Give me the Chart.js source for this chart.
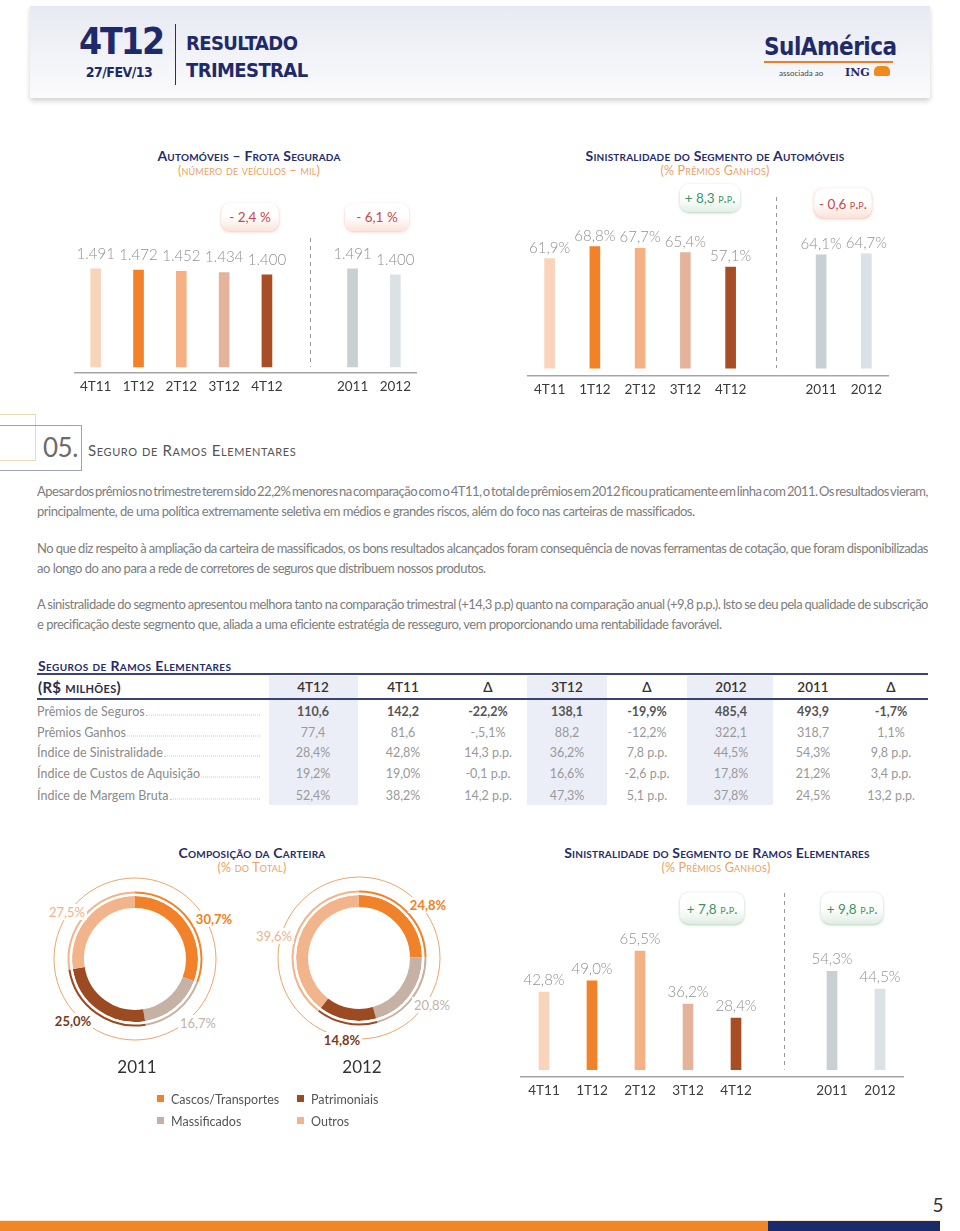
<!DOCTYPE html>
<html lang="pt-BR">
<head>
<meta charset="utf-8">
<title>4T12 - Resultado Trimestral</title>
<script src="https://cdn.jsdelivr.net/npm/chart.js@4.4.1/dist/chart.umd.min.js"></script>
<style>
html,body{margin:0;padding:0;background:#fff}
body{width:960px;height:1231px;position:relative;overflow:hidden;font-family:Lato,'Open Sans',sans-serif}
.c{position:absolute;transform:translate(-50%,-50%);white-space:nowrap}
.l{position:absolute;transform:translateY(-50%);white-space:nowrap}
canvas{position:absolute}
.titulo{color:#262c69;font-weight:700;font-variant:small-caps;font-size:14px;letter-spacing:.2px}
.sub{color:#eba25f;font-variant:small-caps;font-size:12.5px;letter-spacing:.2px}
.badge{position:absolute;transform:translate(-50%,-50%);border-radius:9px;font-size:13.5px;display:flex;align-items:center;justify-content:center;white-space:nowrap}
.neg{color:#c9474d;background:linear-gradient(#fff 0%,#fff 50%,#fae3da 100%);box-shadow:0 1px 3px rgba(230,150,130,.55)}
.pos{color:#3d9460;background:linear-gradient(#fff 0%,#fff 50%,#e2eee4 100%);box-shadow:0 1px 3px rgba(120,170,130,.55)}
.sc{font-variant:small-caps}
.cab{position:absolute;left:30px;top:6px;width:900px;height:92px;background:linear-gradient(#e7eaf2,#fbfbfd);box-shadow:0 3px 5px rgba(0,0,0,.18)}
.cond{font-family:'DejaVu Sans Condensed','DejaVu Sans',sans-serif;font-stretch:condensed}
.linha{position:absolute;left:37px;width:891px;font-size:13px;color:#7d7d7d;letter-spacing:-.5px;white-space:nowrap;line-height:18px}
.just{text-align:justify;text-align-last:justify;white-space:normal;height:18px;overflow:hidden;word-spacing:-2.5px}
.rot{font-size:12.5px;color:#8a8a8a}
.val{font-size:12.5px;color:#999}
.ano{font-size:17px;color:#333}
.leg{font-size:12.5px;color:#555}
.qd{position:absolute;width:7px;height:7px}
.pct{position:absolute;transform:translate(-50%,-50%);background:#fff;padding:0 2px;font-size:13px;white-space:nowrap}
</style>
</head>
<body>

<!-- cabecalho -->
<div class="cab"></div>
<div class="c cond" style="left:121px;top:41px;font-size:37px;font-weight:bold;color:#1f2a6b;letter-spacing:-2px">4T12</div>
<div class="c cond" style="left:119px;top:72px;font-size:14px;font-weight:bold;color:#1f2a6b;letter-spacing:-.5px">27/FEV/13</div>
<div style="position:absolute;left:175px;top:24px;width:1px;height:61px;background:#333"></div>
<div class="l cond" style="left:186px;top:43px;font-size:20px;font-weight:bold;color:#1f2a6b;letter-spacing:-.6px">RESULTADO</div>
<div class="l cond" style="left:186px;top:70px;font-size:20px;font-weight:bold;color:#1f2a6b;letter-spacing:-.6px">TRIMESTRAL</div>
<div class="l cond" style="left:764px;top:47px;font-size:24px;font-weight:bold;color:#1f2a6b;letter-spacing:-.5px">SulAmérica</div>
<div style="position:absolute;left:764px;top:61px;width:129px;height:2px;background:#ef7d22"></div>
<div class="l" style="left:779px;top:73px;font-size:8px;color:#444">associada ao</div>
<div class="l" style="left:845px;top:72px;font-family:'DejaVu Serif',serif;font-size:11px;font-weight:bold;color:#1f2a6b">ING</div>
<div style="position:absolute;left:874px;top:66px;width:16px;height:10px;border-radius:5px 5px 2px 2px;background:#f08a1c"></div>

<!-- grafico frota -->
<div class="c titulo" style="left:249px;top:155px">Automóveis – Frota Segurada</div>
<div class="c sub" style="left:249px;top:170px">(número de veículos – mil)</div>
<div class="badge neg" style="left:250px;top:217px;width:57px;height:28px">- 2,4 %</div>
<div class="badge neg" style="left:377px;top:217px;width:64px;height:28px">- 6,1 %</div>
<canvas id="frota" width="343" height="201" style="left:74px;top:200px"></canvas>

<!-- grafico sinistralidade automoveis -->
<div class="c titulo" style="left:715px;top:155px">Sinistralidade do Segmento de Automóveis</div>
<div class="c sub" style="left:715px;top:170px">(% Prêmios Ganhos)</div>
<div class="badge pos" style="left:710px;top:198px;width:60px;height:28px">+ 8,3&nbsp;<span class="sc">p.p.</span></div>
<div class="badge neg" style="left:843px;top:203px;width:57px;height:29px">- 0,6&nbsp;<span class="sc">p.p.</span></div>
<canvas id="sinAuto" width="362" height="219" style="left:527px;top:185px"></canvas>

<!-- secao 05 -->
<div style="position:absolute;left:-1px;top:414px;width:35px;height:45px;border:1px solid #eadcb2"></div>
<div style="position:absolute;left:-1px;top:425px;width:81px;height:44px;border:1px solid #9ca1b3"></div>
<div class="l" style="left:43px;top:447px;font-size:26px;color:#6b6b6b;letter-spacing:-.5px">05.</div>
<div class="l" style="left:88px;top:450px;font-size:15px;color:#555;font-variant:small-caps;letter-spacing:.6px">Seguro de Ramos Elementares</div>

<div class="linha just" style="top:482px">Apesar dos prêmios no trimestre terem sido 22,2% menores na comparação com o 4T11, o total de prêmios em 2012 ficou praticamente em linha com 2011. Os resultados vieram,</div>
<div class="linha" style="top:502px">principalmente, de uma política extremamente seletiva em médios e grandes riscos, além do foco nas carteiras de massificados.</div>
<div class="linha just" style="top:539px">No que diz respeito à ampliação da carteira de massificados, os bons resultados alcançados foram consequência de novas ferramentas de cotação, que foram disponibilizadas</div>
<div class="linha" style="top:559px">ao longo do ano para a rede de corretores de seguros que distribuem nossos produtos.</div>
<div class="linha just" style="top:595px">A sinistralidade do segmento apresentou melhora tanto na comparação trimestral (+14,3 p.p) quanto na comparação anual (+9,8 p.p.). Isto se deu pela qualidade de subscrição</div>
<div class="linha" style="top:615px">e precificação deste segmento que, aliada a uma eficiente estratégia de resseguro, vem proporcionando uma rentabilidade favorável.</div>

<!-- tabela -->
<div id="tabela"></div>

<!-- composicao da carteira -->
<div class="c titulo" style="left:252px;top:852px">Composição da Carteira</div>
<div class="c sub" style="left:252px;top:867px">(% do Total)</div>
<canvas id="cart2011" width="200" height="200" style="left:35px;top:859px"></canvas>
<canvas id="cart2012" width="200" height="200" style="left:259px;top:858px"></canvas>
<div id="rotulosCarteira"></div>
<div class="c ano" style="left:137px;top:1066px">2011</div>
<div class="c ano" style="left:362px;top:1066px">2012</div>
<div id="legenda"></div>

<!-- sinistralidade ramos elementares -->
<div class="c titulo" style="left:717px;top:852px">Sinistralidade do Segmento de Ramos Elementares</div>
<div class="c sub" style="left:716px;top:867px">(% Prêmios Ganhos)</div>
<div class="badge pos" style="left:712px;top:908px;width:64px;height:31px">+ 7,8&nbsp;<span class="sc">p.p.</span></div>
<div class="badge pos" style="left:852px;top:908px;width:62px;height:31px">+ 9,8&nbsp;<span class="sc">p.p.</span></div>
<canvas id="sinRE" width="384" height="215" style="left:520px;top:890px"></canvas>

<!-- rodape -->
<div class="c" style="left:938px;top:1204px;font-size:19px;color:#333">5</div>
<div style="position:absolute;left:0;top:1220px;width:940px;height:1px;background:#fbe6cf"></div>
<div style="position:absolute;left:0;top:1221px;width:768px;height:10px;background:#f28526"></div>
<div style="position:absolute;left:768px;top:1221px;width:172px;height:10px;background:#1b2a68"></div>

<script>
// Categorias dos graficos de barras (posicao vazia separa trimestres e anos)
const categorias = ['4T11', '1T12', '2T12', '3T12', '4T12', '', '2011', '2012']
const coresBarras = ['#f8d4ba', '#f2822a', '#f4b183', '#e3b49b', '#a94d24', '#ffffff', '#c8d0d3', '#dbe2e5']

// Frota segurada (mil veiculos)
const frota = [1491, 1472, 1452, 1434, 1400, null, 1491, 1400]
// Sinistralidade automoveis (% premios ganhos)
const sinistAuto = [61.9, 68.8, 67.7, 65.4, 57.1, null, 64.1, 64.7]
// Sinistralidade ramos elementares (% premios ganhos)
const sinistRE = [42.8, 49.0, 65.5, 36.2, 28.4, null, 54.3, 44.5]

// Composicao da carteira (% do total)
const segmentos = ['Cascos/Transportes', 'Massificados', 'Patrimoniais', 'Outros']
const coresSegmentos = ['#f2822a', '#c6b2a4', '#9b4a21', '#f2b48b']
const carteira2011 = [30.7, 16.7, 25.0, 27.5]
const carteira2012 = [24.8, 20.8, 14.8, 39.6]

// Tabela Seguros de Ramos Elementares
const colunasTabela = ['4T12', '4T11', 'Δ', '3T12', 'Δ', '2012', '2011', 'Δ']
const linhasTabela = ['Prêmios de Seguros', 'Prêmios Ganhos', 'Índice de Sinistralidade', 'Índice de Custos de Aquisição', 'Índice de Margem Bruta']
const premiosSeguros = ['110,6', '142,2', '-22,2%', '138,1', '-19,9%', '485,4', '493,9', '-1,7%']
const premiosGanhos = ['77,4', '81,6', '-,5,1%', '88,2', '-12,2%', '322,1', '318,7', '1,1%']
const indiceSinistralidade = ['28,4%', '42,8%', '14,3 p.p.', '36,2%', '7,8 p.p.', '44,5%', '54,3%', '9,8 p.p.']
const indiceCustos = ['19,2%', '19,0%', '-0,1 p.p.', '16,6%', '-2,6 p.p.', '17,8%', '21,2%', '3,4 p.p.']
const indiceMargem = ['52,4%', '38,2%', '14,2 p.p.', '47,3%', '5,1 p.p.', '37,8%', '24,5%', '13,2 p.p.']

function formatar(v, tipo) {
	if (tipo === 'milhar') {
		const s = String(v)
		return s.length > 3 ? s.slice(0, s.length - 3) + '.' + s.slice(-3) : s
	}
	return v.toFixed(1).replace('.', ',') + '%'
}

// Rotulos acima das barras e linha tracejada
const rotulosBarras = {
	id: 'rotulosBarras',
	afterDatasetsDraw(chart, args, opts) {
		const ctx = chart.ctx
		const meta = chart.getDatasetMeta(0)
		const valores = chart.data.datasets[0].data
		ctx.save()
		ctx.font = '300 15px Lato'
		ctx.fillStyle = '#929292'
		ctx.textAlign = 'center'
		ctx.textBaseline = 'alphabetic'
		meta.data.forEach((barra, i) => {
			if (valores[i] == null) return
			ctx.fillText(formatar(valores[i], opts.tipo), barra.x, barra.y - opts.distancia)
		})
		const x = Math.round(chart.scales.x.getPixelForValue(5)) + 0.5
		ctx.strokeStyle = '#9a9a9a'
		ctx.lineWidth = 1
		ctx.setLineDash([4, 4])
		ctx.beginPath()
		ctx.moveTo(x, chart.chartArea.top + opts.topoTracejado)
		ctx.lineTo(x, chart.scales.y.getPixelForValue(0))
		ctx.stroke()
		ctx.restore()
	},
}

function graficoBarras(id, valores, tipo, yMin, yMax, distancia, topoTracejado) {
	new Chart(document.getElementById(id), {
		type: 'bar',
		data: {
			labels: categorias,
			datasets: [
				{
					data: valores,
					backgroundColor: coresBarras,
					barThickness: 10,
					borderWidth: 0,
				},
			],
		},
		options: {
			responsive: false,
			animation: false,
			layout: { padding: 0 },
			plugins: {
				legend: { display: false },
				tooltip: { enabled: false },
				rotulosBarras: { tipo: tipo, distancia: distancia, topoTracejado: topoTracejado },
			},
			scales: {
				x: {
					grid: { display: false, drawTicks: false },
					border: { display: true, color: '#a5a5a5', width: 1.5 },
					ticks: { color: '#3b3b3b', font: { family: 'Lato', size: 13.5 }, padding: 6 },
				},
				y: { display: false, min: yMin, max: yMax },
			},
		},
		plugins: [rotulosBarras],
	})
}

graficoBarras('frota', frota, 'milhar', -91, 2536, 10, 38)
graficoBarras('sinAuto', sinistAuto, 'pct', -4.35, 103.6, 6, 12)
graficoBarras('sinRE', sinistRE, 'pct', -4.0, 99.2, 7, 3)

// Circulo fino externo das roscas
const aroExterno = {
	id: 'aroExterno',
	afterDraw(chart) {
		const arco = chart.getDatasetMeta(0).data[0]
		const ctx = chart.ctx
		ctx.save()
		ctx.strokeStyle = '#e9a66a'
		ctx.lineWidth = 1
		ctx.beginPath()
		ctx.arc(arco.x, arco.y, arco.outerRadius + 13.5, 0, Math.PI * 2)
		ctx.stroke()
		ctx.restore()
	},
}

function graficoRosca(id, valores) {
	new Chart(document.getElementById(id), {
		type: 'doughnut',
		data: {
			labels: segmentos,
			datasets: [
				{ data: valores, backgroundColor: coresSegmentos, borderWidth: 0, weight: 2 },
				{ data: valores, backgroundColor: '#ffffff', borderWidth: 0, weight: 2.5 },
				{ data: valores, backgroundColor: coresSegmentos, borderWidth: 0, weight: 12 },
			],
		},
		options: {
			responsive: false,
			animation: false,
			cutout: '75.5%',
			layout: { padding: 32.5 },
			plugins: { legend: { display: false }, tooltip: { enabled: false } },
		},
		plugins: [aroExterno],
	})
}

graficoRosca('cart2011', carteira2011)
graficoRosca('cart2012', carteira2012)

// Rotulos das roscas
const estilosRotulo = [
	'color:#f07f20;font-weight:bold',
	'color:#c3b3a8',
	'color:#7b3a19;font-weight:bold',
	'color:#f1b387',
]
const posicoes2011 = [[214, 919], [198, 1023], [73, 1021], [67, 912]]
const posicoes2012 = [[428, 905], [432, 1005], [342, 1040], [274, 936]]
let htmlRotulos = ''
carteira2011.forEach((v, i) => {
	htmlRotulos += `<div class="pct" style="left:${posicoes2011[i][0]}px;top:${posicoes2011[i][1]}px;${estilosRotulo[i]}">${formatar(v, 'pct')}</div>`
})
carteira2012.forEach((v, i) => {
	htmlRotulos += `<div class="pct" style="left:${posicoes2012[i][0]}px;top:${posicoes2012[i][1]}px;${estilosRotulo[i]}">${formatar(v, 'pct')}</div>`
})
document.getElementById('rotulosCarteira').innerHTML = htmlRotulos

// Legenda
const posLegenda = [[160, 1099], [160, 1121], [300, 1099], [300, 1121]]
let htmlLegenda = ''
segmentos.forEach((s, i) => {
	const [x, y] = posLegenda[i]
	htmlLegenda += `<div class="qd" style="left:${x - 3}px;top:${y - 4}px;background:${coresSegmentos[i]}"></div>`
	htmlLegenda += `<div class="l leg" style="left:${x + 11}px;top:${y}px">${s}</div>`
})
document.getElementById('legenda').innerHTML = htmlLegenda

// Tabela
const centrosColunas = [313, 403, 488, 567, 647, 731, 813, 891]
const linhasY = [711, 732, 752, 773, 795]
const valoresTabela = [premiosSeguros, premiosGanhos, indiceSinistralidade, indiceCustos, indiceMargem]
let htmlTabela = ''
htmlTabela += '<div class="l" style="left:38px;top:665px;font-size:14px;font-weight:bold;color:#262c69;font-variant:small-caps;letter-spacing:.4px">Seguros de Ramos Elementares</div>'
;[[269, 89], [527, 80], [687, 86]].forEach(([x, w]) => {
	htmlTabela += `<div style="position:absolute;left:${x}px;top:676px;width:${w}px;height:129px;background:#eceef7"></div>`
})
htmlTabela += '<div style="position:absolute;left:37px;top:673px;width:891px;height:2px;background:#3b4277"></div>'
htmlTabela += '<div style="position:absolute;left:37px;top:698px;width:891px;height:2px;background:#3b4277"></div>'
htmlTabela += '<div class="l" style="left:38px;top:687px;font-size:15px;font-weight:bold;color:#2d2d45;font-variant:small-caps;letter-spacing:.3px">(R$ milhões)</div>'
colunasTabela.forEach((c, j) => {
	htmlTabela += `<div class="c" style="left:${centrosColunas[j]}px;top:687px;font-size:13.5px;font-weight:600;color:#333">${c}</div>`
})
linhasTabela.forEach((r, i) => {
	htmlTabela += `<div class="l rot" style="left:37px;top:${linhasY[i]}px;width:223px;display:flex;align-items:baseline"><span>${r}</span><span style="flex:1;border-bottom:1px dotted #c9c9c9;margin-left:1px;height:9px"></span></div>`
	valoresTabela[i].forEach((v, j) => {
		const estilo = i === 0 ? 'font-weight:bold;color:#555' : ''
		htmlTabela += `<div class="c val" style="left:${centrosColunas[j]}px;top:${linhasY[i]}px;${estilo}">${v}</div>`
	})
})
document.getElementById('tabela').innerHTML = htmlTabela
</script>
</body>
</html>
